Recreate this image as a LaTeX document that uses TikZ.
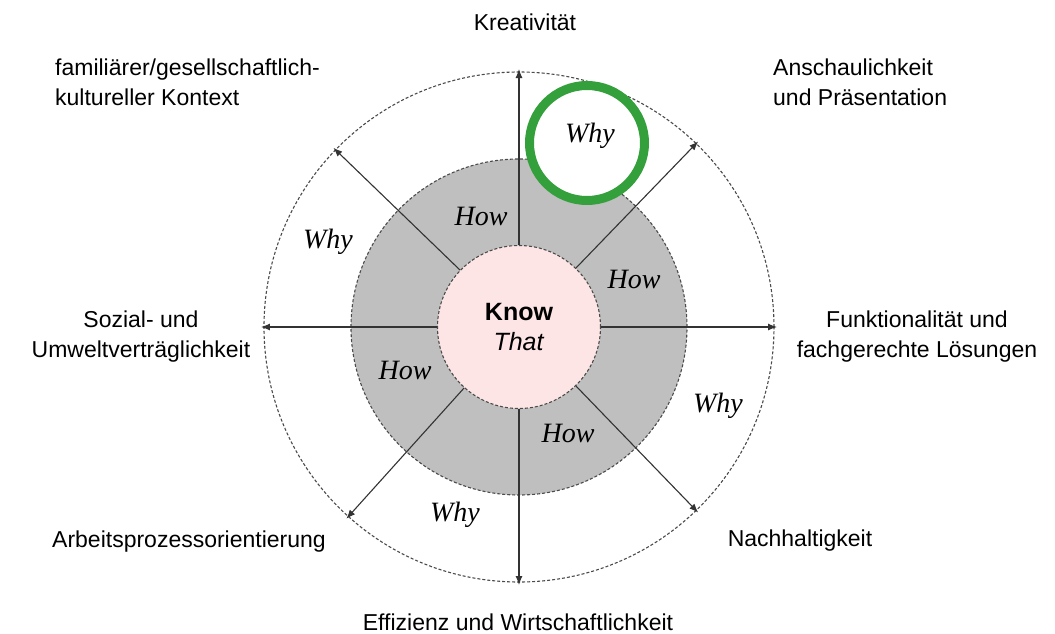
\documentclass[tikz,border=0pt]{standalone}
\usepackage{fontspec}
\setmainfont{Liberation Serif}
\setsansfont{Liberation Sans}
\usetikzlibrary{arrows.meta}

\definecolor{knowpink}{RGB}{253,229,229}
\definecolor{howgray}{RGB}{191,191,191}
\definecolor{rimgray}{RGB}{75,75,75}
\definecolor{markgreen}{RGB}{52,160,60}

\begin{document}
\begin{tikzpicture}[
			x=1pt, y=1pt,
			rim/.style={circle,draw=rimgray,line width=1.1pt,dash pattern=on 3pt off 2pt,inner sep=0pt},
			dim/.style={font=\sffamily\fontsize{23}{30}\selectfont,inner sep=0pt},
			hw/.style={font=\rmfamily\itshape\fontsize{28}{30}\selectfont,inner sep=0pt},
			spoke/.style={draw=black!80,line width=1.1pt,-{Latex[length=9pt,width=7pt]}}
			]

			\useasboundingbox (-519,-306) rectangle (536,327);

			% rings
			\node[rim,minimum size=510pt] (whyring) at (0,0) {};
			\node[rim,fill=howgray,minimum size=336pt] (howring) at (0,0) {};
			\node[rim,fill=knowpink,minimum size=163pt,align=center,
				font=\sffamily\fontsize{25}{30}\selectfont] (know) at (0,0) {\textbf{Know}\\\textit{That}};

			% spokes
			\foreach \a/\i in {90/1,136/2,180/3,-132/4,-90/5,-46/6,0/7,46/8}
				{
				\coordinate (tip\i) at (\a:258);
				\draw[spoke] (know.\a) -- (tip\i);
				}

			% dimensions
			\node[dim] (krea) at (6,305) {Kreativität};
			\node[dim,anchor=west,align=left] (kontext) at (-464,245) {familiärer/gesellschaftlich-\\kultureller Kontext};
			\node[dim,anchor=west,align=left] (praes) at (254,245) {Anschaulichkeit\\und Präsentation};
			\node[dim,align=center] (sozial) at (-378,-10) {Sozial- und\\Umweltverträglichkeit};
			\node[dim,align=center] (funkt) at (398,-10) {Funktionalität und\\fachgerechte Lösungen};
			\node[dim] (arbeit) at (-330,-215) {Arbeitsprozessorientierung};
			\node[dim] (nachh) at (281,-214) {Nachhaltigkeit};
			\node[dim] (effiz) at (-1,-295) {Effizienz und Wirtschaftlichkeit};

			% marked why
			\node[circle,draw=markgreen,fill=white,line width=9pt,inner sep=0pt,minimum size=115pt] (mark) at (68,184) {};

			% how / why
			\node[hw] (how1) at (-38,111) {How};
			\node[hw] (how2) at (115,48) {How};
			\node[hw] (how3) at (-114,-43) {How};
			\node[hw] (how4) at (49,-106) {How};
			\node[hw] (why1) at (71,191) {Why};
			\node[hw] (why2) at (-191,85) {Why};
			\node[hw] (why3) at (199,-79) {Why};
			\node[hw] (why4) at (-64,-188) {Why};

		\end{tikzpicture}
\end{document}
